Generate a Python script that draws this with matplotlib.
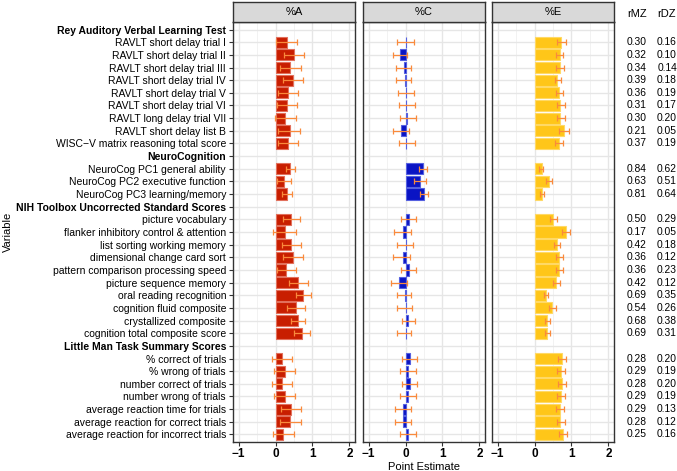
import numpy as np
import matplotlib
matplotlib.use("Agg")
import matplotlib.pyplot as plt
from matplotlib.transforms import blended_transform_factory

plt.rcParams['font.family'] = ['Liberation Sans', 'DejaVu Sans']

# rows, top to bottom; headers have no values
labels = [
    "Rey Auditory Verbal Learning Test",
    "RAVLT short delay trial I", "RAVLT short delay trial II", "RAVLT short delay trial III",
    "RAVLT short delay trial IV", "RAVLT short delay trial V", "RAVLT short delay trial VI",
    "RAVLT long delay trial VII", "RAVLT short delay list B", "WISC\u2212V matrix reasoning total score",
    "NeuroCognition",
    "NeuroCog PC1 general ability", "NeuroCog PC2 executive function", "NeuroCog PC3 learning/memory",
    "NIH Toolbox Uncorrected Standard Scores",
    "picture vocabulary", "flanker inhibitory control & attention", "list sorting working memory",
    "dimensional change card sort", "pattern comparison processing speed", "picture sequence memory",
    "oral reading recognition", "cognition fluid composite", "crystallized composite",
    "cognition total composite score",
    "Little Man Task Summary Scores",
    "% correct of trials", "% wrong of trials", "number correct of trials", "number wrong of trials",
    "average reaction time for trials", "average reaction for correct trials",
    "average reaction for incorrect trials",
]
headers = {0, 10, 14, 25}

# values for the 29 non-header rows
a_est = [0.30, 0.51, 0.40, 0.46, 0.35, 0.31, 0.27, 0.38, 0.33,
         0.38, 0.24, 0.31,
         0.43, 0.25, 0.42, 0.46, 0.29, 0.62, 0.74, 0.56, 0.60, 0.72,
         0.18, 0.25, 0.18, 0.25, 0.42, 0.40, 0.20]
a_lo = [0.01, 0.23, 0.12, 0.19, 0.07, 0.03, -0.01, 0.07, 0.06,
        0.28, 0.05, 0.18,
        0.19, -0.06, 0.17, 0.19, 0.03, 0.36, 0.56, 0.32, 0.43, 0.51,
        -0.10, -0.04, -0.10, -0.04, 0.14, 0.12, -0.08]
a_hi = [0.58, 0.78, 0.68, 0.73, 0.61, 0.58, 0.56, 0.66, 0.60,
        0.52, 0.43, 0.44,
        0.66, 0.56, 0.69, 0.73, 0.56, 0.88, 0.95, 0.81, 0.81, 0.93,
        0.45, 0.52, 0.45, 0.52, 0.69, 0.69, 0.49]

c_est = [0.01, -0.14, -0.03, -0.02, 0.01, 0.02, 0.04, -0.12, 0.02,
         0.47, 0.40, 0.50,
         0.09, -0.06, 0.00, -0.08, 0.09, -0.17, -0.01, 0.01, 0.08, 0.00,
         0.11, 0.06, 0.11, 0.06, -0.06, -0.06, 0.06]
c_lo = [-0.22, -0.35, -0.26, -0.26, -0.20, -0.18, -0.14, -0.35, -0.17,
        0.36, 0.24, 0.38,
        -0.11, -0.31, -0.23, -0.33, -0.13, -0.38, -0.22, -0.22, -0.09, -0.22,
        -0.10, -0.14, -0.10, -0.14, -0.29, -0.29, -0.15]
c_hi = [0.23, 0.05, 0.16, 0.16, 0.23, 0.25, 0.29, 0.09, 0.25,
        0.58, 0.55, 0.62,
        0.28, 0.16, 0.19, 0.11, 0.29, 0.05, 0.14, 0.18, 0.25, 0.15,
        0.32, 0.28, 0.32, 0.28, 0.14, 0.14, 0.29]

e_est = [0.71, 0.68, 0.69, 0.62, 0.66, 0.70, 0.69, 0.79, 0.67,
         0.19, 0.39, 0.21,
         0.51, 0.86, 0.62, 0.66, 0.66, 0.59, 0.31, 0.48, 0.34, 0.34,
         0.73, 0.72, 0.74, 0.72, 0.69, 0.70, 0.77]
e_lo = [0.62, 0.59, 0.59, 0.55, 0.57, 0.60, 0.60, 0.67, 0.56,
        0.13, 0.31, 0.16,
        0.43, 0.74, 0.54, 0.57, 0.57, 0.51, 0.26, 0.40, 0.28, 0.28,
        0.63, 0.62, 0.63, 0.62, 0.59, 0.60, 0.66]
e_hi = [0.84, 0.78, 0.79, 0.72, 0.76, 0.82, 0.82, 0.92, 0.76,
        0.23, 0.47, 0.26,
        0.61, 0.96, 0.70, 0.76, 0.76, 0.68, 0.37, 0.57, 0.41, 0.41,
        0.85, 0.83, 0.85, 0.83, 0.80, 0.82, 0.88]

r_mz = ["0.30", "0.32", "0.34", "0.39", "0.36", "0.31", "0.30", "0.21", "0.37",
        "0.84", "0.63", "0.81",
        "0.50", "0.17", "0.42", "0.36", "0.36", "0.42", "0.69", "0.54", "0.68", "0.69",
        "0.28", "0.29", "0.28", "0.29", "0.29", "0.28", "0.25"]
r_dz = ["0.16", "0.10", "0.14", "0.18", "0.19", "0.17", "0.20", "0.05", "0.19",
        "0.62", "0.51", "0.64",
        "0.29", "0.05", "0.18", "0.12", "0.23", "0.12", "0.35", "0.26", "0.38", "0.31",
        "0.20", "0.19", "0.20", "0.19", "0.13", "0.12", "0.16"]

panels = [
    ("%A", a_est, a_lo, a_hi, "#C81E00", "#E2705C"),
    ("%C", c_est, c_lo, c_hi, "#0A14C4", "#5560E0"),
    ("%E", e_est, e_lo, e_hi, "#FFC619", "#FFD966"),
]
err_color = "#F98A3C"

W, H = 677, 471
fig = plt.figure(figsize=(W / 100, H / 100), dpi=100)

ypos = np.arange(len(labels))
data_rows = np.array([i for i in ypos if i not in headers])

left_px = [233, 363, 492]
pw = 122
top_px, bot_px = 22, 442

axes = []
for k, (title, est, lo, hi, fc, ec) in enumerate(panels):
    ax = fig.add_axes([left_px[k] / W, 1 - bot_px / H, pw / W, (bot_px - top_px) / H])
    axes.append(ax)
    est = np.array(est)
    ax.barh(data_rows, est, height=0.88, color=fc, edgecolor=ec, linewidth=0.8, zorder=3)
    ax.errorbar(est, data_rows, xerr=[est - np.array(lo), np.array(hi) - est], fmt='none',
                ecolor=err_color, elinewidth=0.9, capsize=2.5, capthick=0.9, zorder=4)
    ax.set_xlim(-1.15, 2.15)
    ax.set_ylim(len(labels) - 1 + 0.6, -0.6)
    ax.set_xticks([-1, 0, 1, 2])
    ax.set_xticklabels(["\u22121", "0", "1", "2"], fontsize=8.5, fontweight='bold')
    ax.set_xticks([-0.5, 0.5, 1.5], minor=True)
    ax.set_yticks(ypos)
    ax.tick_params(axis='x', which='major', length=3, width=0.8, pad=1.5, color='#333333')
    ax.tick_params(axis='x', which='minor', length=0)
    ax.grid(True, which='major', color='#E6E6E6', linewidth=1.0, zorder=0)
    ax.grid(True, which='minor', axis='x', color='#F0F0F0', linewidth=0.6, zorder=0)
    ax.set_axisbelow(True)
    for s in ax.spines.values():
        s.set_color('#333333')
        s.set_linewidth(1.0)
    if k == 0:
        ax.set_yticklabels(labels, fontsize=7.5)
        for i, t in enumerate(ax.get_yticklabels()):
            if i in headers:
                t.set_fontweight('bold')
        ax.tick_params(axis='y', length=3, width=0.8, pad=2, color='#333333')
    else:
        ax.tick_params(axis='y', length=0, labelleft=False)

    # facet strip
    sax = fig.add_axes([left_px[k] / W, 1 - top_px / H, pw / W, 20 / H])
    sax.set_facecolor('#D9D9D9')
    sax.set_xticks([])
    sax.set_yticks([])
    for s in sax.spines.values():
        s.set_color('#333333')
        s.set_linewidth(1.0)
    sax.text(0.5, 0.5, title, ha='center', va='center', fontsize=8, transform=sax.transAxes)

# correlation columns
tr = blended_transform_factory(fig.transFigure, axes[2].transData)
for i, row in enumerate(data_rows):
    fig.text(637 / W, row, r_mz[i], transform=tr, ha='center', va='center', fontsize=7.4)
    fig.text(667 / W, row, r_dz[i], transform=tr, ha='center', va='center', fontsize=7.4)
fig.text(637 / W, 1 - 14 / H, "rMZ", ha='center', va='center', fontsize=8)
fig.text(667 / W, 1 - 14 / H, "rDZ", ha='center', va='center', fontsize=8)

fig.text(424 / W, 1 - 467 / H, "Point Estimate", ha='center', va='center', fontsize=8)
fig.text(8 / W, 1 - 232 / H, "Variable", ha='center', va='center', rotation=90, fontsize=8)

fig.savefig("out.png", dpi=100)
